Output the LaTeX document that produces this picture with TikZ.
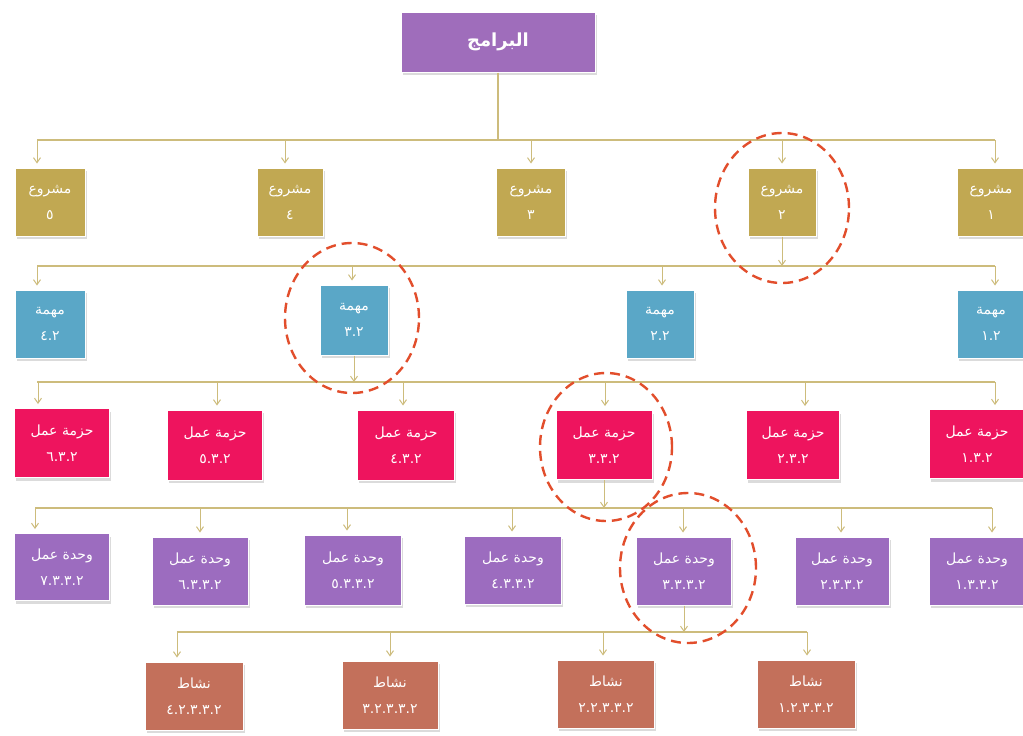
\documentclass[tikz,border=0pt]{standalone}
\usepackage{fontspec}
\newfontfamily\arabicfont[Script=Arabic]{DejaVu Sans}
\TeXXeTstate=1
\usetikzlibrary{arrows.meta,shadows}
\definecolor{cTop}{HTML}{9F6DBB}
\definecolor{cProj}{HTML}{C1A852}
\definecolor{cTask}{HTML}{5AA7C7}
\definecolor{cPkg}{HTML}{EE145E}
\definecolor{cUnit}{HTML}{9C6CBF}
\definecolor{cAct}{HTML}{C3705B}
\definecolor{cLine}{HTML}{CDBC7C}
\definecolor{cRed}{HTML}{E24E2C}
\tikzset{
  box/.style={draw=white, line width=1pt, text=white, align=center, inner sep=0pt,
    font=\arabicfont\fontsize{14}{26}\selectfont,
    drop shadow={shadow xshift=1.5pt, shadow yshift=-3pt, opacity=0.28}},
  proj/.style={box, fill=cProj},
  task/.style={box, fill=cTask},
  pkg/.style={box, fill=cPkg},
  unit/.style={box, fill=cUnit},
  act/.style={box, fill=cAct},
  bus/.style={draw=cLine, line width=1.3pt},
  arr/.style={draw=cLine, line width=1pt, -{Straight Barb[length=5pt,width=7pt]}, shorten >=4pt},
  parr/.style={draw=cLine, line width=1pt, -{Straight Barb[length=5pt,width=7pt]}},
  ring/.style={draw=cRed, line width=2.4pt, dash pattern=on 10pt off 6pt}
}
\newcommand\arrdown[2]{\draw[arr] (#1) -- (#1 |- #2.north);}
\begin{document}
\begin{tikzpicture}[x=1pt,y=-1pt]
\useasboundingbox (0,0) rectangle (1023,736);
\fill[white] (0,0) rectangle (1023,736);

% level 0
\node[box, fill=cTop, minimum width=194pt, minimum height=60pt,
  font=\arabicfont\bfseries\fontsize{18}{20}\selectfont] (top) at (498,42) {\beginR البرامج\endR};

% level 1
\node[proj, minimum width=70pt, minimum height=68pt] (p5) at (50,202) {\beginR مشروع\endR\\٥};
\node[proj, minimum width=66pt, minimum height=68pt] (p4) at (290,202) {\beginR مشروع\endR\\٤};
\node[proj, minimum width=69pt, minimum height=68pt] (p3) at (531,202) {\beginR مشروع\endR\\٣};
\node[proj, minimum width=68pt, minimum height=68pt] (p2) at (782,202) {\beginR مشروع\endR\\٢};
\node[proj, minimum width=68pt, minimum height=68pt] (p1) at (991,202) {\beginR مشروع\endR\\١};

% level 2
\node[task, minimum width=70pt, minimum height=68pt] (t4) at (50,324) {\beginR مهمة\endR\\٤.٢};
\node[task, minimum width=68pt, minimum height=70pt] (t3) at (354,320) {\beginR مهمة\endR\\٣.٢};
\node[task, minimum width=68pt, minimum height=68pt] (t2) at (660,324) {\beginR مهمة\endR\\٢.٢};
\node[task, minimum width=68pt, minimum height=68pt] (t1) at (991,324) {\beginR مهمة\endR\\١.٢};

% level 3
\node[pkg, minimum width=95pt, minimum height=69pt] (k6) at (62,443) {\beginR حزمة عمل\endR\\٦.٣.٢};
\node[pkg, minimum width=95pt, minimum height=70pt] (k5) at (215,445) {\beginR حزمة عمل\endR\\٥.٣.٢};
\node[pkg, minimum width=97pt, minimum height=70pt] (k4) at (406,445) {\beginR حزمة عمل\endR\\٤.٣.٢};
\node[pkg, minimum width=96pt, minimum height=69pt] (k3) at (604,445) {\beginR حزمة عمل\endR\\٣.٣.٢};
\node[pkg, minimum width=93pt, minimum height=69pt] (k2) at (793,445) {\beginR حزمة عمل\endR\\٢.٣.٢};
\node[pkg, minimum width=95pt, minimum height=69pt] (k1) at (977,444) {\beginR حزمة عمل\endR\\١.٣.٢};

% level 4
\node[unit, minimum width=95pt, minimum height=67pt] (u7) at (62,567) {\beginR وحدة عمل\endR\\٧.٣.٣.٢};
\node[unit, minimum width=96pt, minimum height=68pt] (u6) at (200,571) {\beginR وحدة عمل\endR\\٦.٣.٣.٢};
\node[unit, minimum width=97pt, minimum height=70pt] (u5) at (353,570) {\beginR وحدة عمل\endR\\٥.٣.٣.٢};
\node[unit, minimum width=97pt, minimum height=68pt] (u4) at (513,570) {\beginR وحدة عمل\endR\\٤.٣.٣.٢};
\node[unit, minimum width=95pt, minimum height=68pt] (u3) at (684,571) {\beginR وحدة عمل\endR\\٣.٣.٣.٢};
\node[unit, minimum width=94pt, minimum height=68pt] (u2) at (842,571) {\beginR وحدة عمل\endR\\٢.٣.٣.٢};
\node[unit, minimum width=95pt, minimum height=68pt] (u1) at (977,571) {\beginR وحدة عمل\endR\\١.٣.٣.٢};

% level 5
\node[act, minimum width=98pt, minimum height=68pt] (a4) at (194,696) {\beginR نشاط\endR\\٤.٢.٣.٣.٢};
\node[act, minimum width=96pt, minimum height=68pt] (a3) at (390,695) {\beginR نشاط\endR\\٣.٢.٣.٣.٢};
\node[act, minimum width=97pt, minimum height=68pt] (a2) at (606,694) {\beginR نشاط\endR\\٢.٢.٣.٣.٢};
\node[act, minimum width=98pt, minimum height=68pt] (a1) at (806,694) {\beginR نشاط\endR\\١.٢.٣.٣.٢};

% bus 1
\coordinate (b1L) at (37,140); \coordinate (b1R) at (995,140);
\draw[bus] (b1L) -- (b1R);
\draw[bus] (top.south) -- (top.south |- b1L);
\coordinate (x15) at (37,140); \coordinate (x14) at (285,140); \coordinate (x13) at (531,140);
\coordinate (x12) at (782,140); \coordinate (x11) at (995,140);
\arrdown{x15}{p5} \arrdown{x14}{p4} \arrdown{x13}{p3} \arrdown{x12}{p2} \arrdown{x11}{p1}

% bus 2
\coordinate (b2L) at (37,266); \coordinate (b2R) at (995,266);
\draw[bus] (b2L) -- (b2R);
\draw[parr] (p2.south) -- (p2.south |- b2L);
\coordinate (x24) at (37,266); \coordinate (x23) at (352,266); \coordinate (x22) at (662,266);
\coordinate (x21) at (995,266);
\arrdown{x24}{t4} \arrdown{x23}{t3} \arrdown{x22}{t2} \arrdown{x21}{t1}

% bus 3
\coordinate (b3L) at (37,382); \coordinate (b3R) at (995,382);
\draw[bus] (b3L) -- (b3R);
\draw[parr] (t3.south) -- (t3.south |- b3L);
\coordinate (x36) at (38,382); \coordinate (x35) at (217,382); \coordinate (x34) at (403,382);
\coordinate (x33) at (605,382); \coordinate (x32) at (805,382); \coordinate (x31) at (995,382);
\arrdown{x36}{k6} \arrdown{x35}{k5} \arrdown{x34}{k4} \arrdown{x33}{k3} \arrdown{x32}{k2} \arrdown{x31}{k1}

% bus 4
\coordinate (b4L) at (35,508); \coordinate (b4R) at (992,508);
\draw[bus] (b4L) -- (b4R);
\draw[parr] (k3.south) -- (k3.south |- b4L);
\coordinate (x47) at (35,508); \coordinate (x46) at (200,508); \coordinate (x45) at (347,508);
\coordinate (x44) at (512,508); \coordinate (x43) at (683,508); \coordinate (x42) at (841,508);
\coordinate (x41) at (992,508);
\arrdown{x47}{u7} \arrdown{x46}{u6} \arrdown{x45}{u5} \arrdown{x44}{u4} \arrdown{x43}{u3}
\arrdown{x42}{u2} \arrdown{x41}{u1}

% bus 5
\coordinate (b5L) at (177,632); \coordinate (b5R) at (807,632);
\draw[bus] (b5L) -- (b5R);
\draw[parr] (u3.south) -- (u3.south |- b5L);
\coordinate (x54) at (177,632); \coordinate (x53) at (390,632); \coordinate (x52) at (603,632);
\coordinate (x51) at (807,632);
\arrdown{x54}{a4} \arrdown{x53}{a3} \arrdown{x52}{a2} \arrdown{x51}{a1}

% dashed red highlight rings
\draw[ring] (782,208) ellipse [x radius=67pt, y radius=75pt];
\draw[ring] (352,318) ellipse [x radius=67pt, y radius=75pt];
\draw[ring] (606,447) ellipse [x radius=66pt, y radius=74pt];
\draw[ring] (688,568) ellipse [x radius=68pt, y radius=75pt];
\end{tikzpicture}
\end{document}
